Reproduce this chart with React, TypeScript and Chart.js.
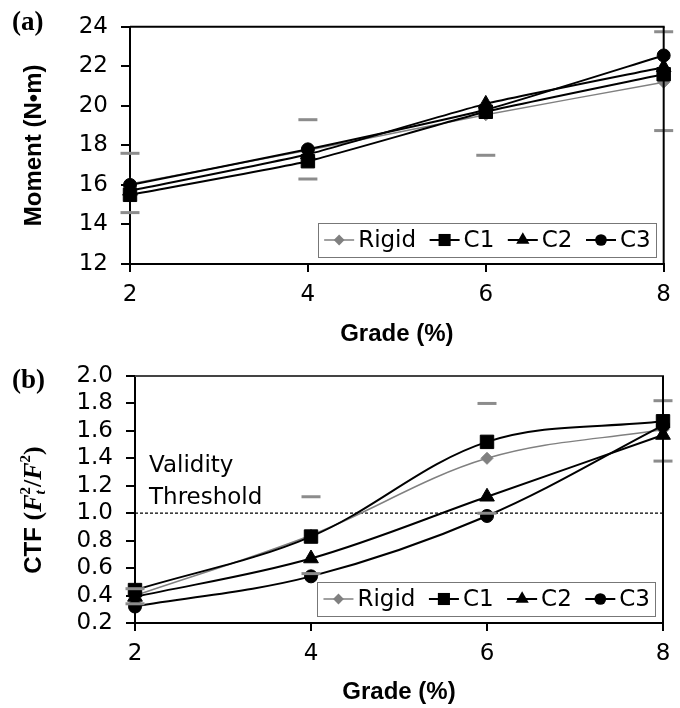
import React, { useEffect, useRef } from 'react';
import { Chart, registerables } from 'chart.js';

Chart.register(...registerables);

// ---------- data ----------
const grades = [2, 4, 6, 8];
const gradeTicks = [2, 4, 6, 8];
const seriesNames = ['Rigid', 'C1', 'C2', 'C3'];

const momentRigid = [16.05, 17.75, 19.55, 21.2];
const momentC1 = [15.5, 17.2, 19.7, 21.6];
const momentC2 = [15.7, 17.55, 20.1, 21.95];
const momentC3 = [16.0, 17.8, 19.8, 22.55];
const momentErrX = [2, 2, 4, 4, 6, 8, 8];
const momentErrY = [17.6, 14.6, 19.3, 16.3, 17.5, 23.75, 18.75];
const momentTicks = [12, 14, 16, 18, 20, 22, 24];

const ctfRigid = [0.4, 0.84, 1.4, 1.61];
const ctfC1 = [0.44, 0.83, 1.52, 1.67];
const ctfC2 = [0.39, 0.67, 1.12, 1.57];
const ctfC3 = [0.32, 0.54, 0.98, 1.64];
const ctfErrX = [2, 2, 4, 4, 6, 6, 8, 8];
const ctfErrY = [0.45, 0.34, 1.12, 0.56, 1.8, 1.0, 1.82, 1.38];
const ctfTicks = [0.2, 0.4, 0.6, 0.8, 1.0, 1.2, 1.4, 1.6, 1.8, 2.0];
const validityThreshold = 1.0;
const thresholdLabel = ['Validity', 'Threshold'];

// ---------- styles ----------
const GRAY = '#808080';
const ERR_GRAY = '#8c8c8c';
const seriesStyles = [
  { color: GRAY, pointStyle: 'rectRot', radius: 6, width: 1.5 },
  { color: '#000', pointStyle: 'rect', radius: 9.5, width: 2 },
  { color: '#000', pointStyle: 'triangle', radius: 8.5, width: 2 },
  { color: '#000', pointStyle: 'circle', radius: 6.5, width: 2 },
];
const TICK_FONT = { family: '"DejaVu Sans"', size: 23 };
const TITLE_FONT = { family: '"Liberation Sans", Arial', size: 24, weight: 'bold' as const };

function mkSeries(values: number[], i: number, tension: number) {
  const s = seriesStyles[i];
  return {
    label: seriesNames[i],
    data: grades.map((g, k) => ({ x: g, y: values[k] })),
    borderColor: s.color,
    backgroundColor: s.color,
    pointBackgroundColor: s.color,
    pointBorderColor: s.color,
    pointStyle: s.pointStyle,
    pointRadius: s.radius,
    pointBorderWidth: 1,
    borderWidth: s.width,
    tension,
    clip: false,
    order: 1 + (3 - i) * 0.1,
  };
}

function mkErrors(xs: number[], ys: number[]) {
  return {
    label: '_err',
    data: xs.map((x, k) => ({ x, y: ys[k] })),
    showLine: false,
    pointStyle: 'line',
    pointRadius: 9.5,
    pointBorderWidth: 3,
    pointBorderColor: ERR_GRAY,
    borderColor: ERR_GRAY,
    backgroundColor: ERR_GRAY,
    clip: false,
    order: 0,
  };
}

function drawMarker(ctx: CanvasRenderingContext2D, style: string, x: number, y: number, r: number, color: string) {
  ctx.save();
  ctx.fillStyle = color;
  ctx.beginPath();
  if (style === 'rectRot') {
    ctx.moveTo(x - r, y); ctx.lineTo(x, y - r); ctx.lineTo(x + r, y); ctx.lineTo(x, y + r); ctx.closePath();
  } else if (style === 'rect') {
    const h = r * Math.SQRT1_2;
    ctx.rect(x - h, y - h, 2 * h, 2 * h);
  } else if (style === 'triangle') {
    ctx.moveTo(x, y - r);
    ctx.lineTo(x + r * Math.sin(Math.PI * 2 / 3), y - r * Math.cos(Math.PI * 2 / 3));
    ctx.lineTo(x + r * Math.sin(Math.PI * 4 / 3), y - r * Math.cos(Math.PI * 4 / 3));
    ctx.closePath();
  } else {
    ctx.arc(x, y, r, 0, Math.PI * 2);
  }
  ctx.fill();
  ctx.restore();
}

const extrasPlugin = {
  id: 'extras',
  afterDraw(chart: any, _args: any, opts: any) {
    const ctx: CanvasRenderingContext2D = chart.ctx;
    const ca = chart.chartArea;
    ctx.save();
    // frame: top and right
    ctx.lineWidth = 2;
    ctx.strokeStyle = opts.topColor || '#000';
    ctx.beginPath(); ctx.moveTo(ca.left, ca.top); ctx.lineTo(ca.right + 1, ca.top); ctx.stroke();
    ctx.strokeStyle = '#000';
    ctx.beginPath(); ctx.moveTo(ca.right, ca.top); ctx.lineTo(ca.right, ca.bottom); ctx.stroke();

    // panel label
    ctx.fillStyle = '#000';
    ctx.font = 'bold 27px "Liberation Serif", "Times New Roman", serif';
    ctx.textBaseline = 'middle';
    ctx.textAlign = 'left';
    ctx.fillText(opts.panel, 12, opts.panelY);

    // threshold text
    if (opts.threshold) {
      const ys = chart.scales.y.getPixelForValue(validityThreshold);
      ctx.font = '23px "DejaVu Sans"';
      ctx.fillText(thresholdLabel[0], ca.left + 14, ys - 47);
      ctx.fillText(thresholdLabel[1], ca.left + 14, ys - 15);
    }

    // custom y title (mixed fonts)
    if (opts.ctfTitle) {
      const segs = [
        { t: 'CTF ', f: 'bold 24px "Liberation Sans", Arial', dy: 0, adv: true },
        { t: '(', f: 'bold 26px "Liberation Serif", serif', dy: 0, adv: true },
        { t: 'F', f: 'italic bold 26px "Liberation Serif", serif', dy: 0, adv: true },
        { t: 't', f: 'italic bold 15px "Liberation Serif", serif', dy: 7, adv: false },
        { t: '2', f: 'bold 15px "Liberation Serif", serif', dy: -8, adv: true },
        { t: '/', f: 'bold 26px "Liberation Serif", serif', dy: 0, adv: true },
        { t: 'F', f: 'italic bold 26px "Liberation Serif", serif', dy: 0, adv: true },
        { t: '2', f: 'bold 15px "Liberation Serif", serif', dy: -8, adv: true },
        { t: ')', f: 'bold 26px "Liberation Serif", serif', dy: 0, adv: true },
      ];
      let total = 0;
      for (const s of segs) { ctx.font = s.f; if (s.adv) total += ctx.measureText(s.t).width; }
      ctx.translate(34, opts.titleCy);
      ctx.rotate(-Math.PI / 2);
      let x = -total / 2;
      for (const s of segs) {
        ctx.font = s.f;
        ctx.fillText(s.t, x, s.dy);
        if (s.adv) x += ctx.measureText(s.t).width;
      }
      ctx.setTransform(1, 0, 0, 1, 0, 0);
    }

    // legend inside plot
    ctx.font = '23px "DejaVu Sans"';
    const padL = 6, padR = 5, markW = 30, gapMT = 4, gapItem = 13.5, h = 34;
    const widths = seriesNames.map((n) => ctx.measureText(n).width);
    const total = padL + padR + widths.reduce((a, w) => a + markW + gapMT + w, 0) + gapItem * (seriesNames.length - 1);
    const right = ca.right - 8, bottom = ca.bottom - 7;
    const left = right - total, top = bottom - h;
    ctx.fillStyle = '#fff';
    ctx.fillRect(left, top, total, h);
    ctx.strokeStyle = '#777';
    ctx.lineWidth = 1;
    ctx.strokeRect(Math.round(left) + 0.5, Math.round(top) + 0.5, Math.round(total), h);
    let x = left + padL;
    const cy = top + h / 2;
    seriesNames.forEach((n, i) => {
      const s = seriesStyles[i];
      ctx.strokeStyle = s.color;
      ctx.lineWidth = s.width;
      ctx.beginPath(); ctx.moveTo(x, cy); ctx.lineTo(x + markW, cy); ctx.stroke();
      drawMarker(ctx, s.pointStyle, x + markW / 2, cy, s.radius * 0.9, s.color);
      ctx.fillStyle = '#000';
      ctx.textBaseline = 'middle';
      ctx.fillText(n, x + markW + gapMT, cy + 1);
      x += markW + gapMT + widths[i] + gapItem;
    });
    ctx.restore();
  },
};

function baseScales(yTicks: number[], yMin: number, yMax: number, yWidth: number, xHeight: number, yTitle: any, fmt: (v: number) => string) {
  return {
    x: {
      type: 'linear',
      min: 2,
      max: 8,
      afterBuildTicks: (s: any) => { s.ticks = gradeTicks.map((v) => ({ value: v })); },
      afterFit: (s: any) => { s.height = xHeight; },
      ticks: { font: TICK_FONT, color: '#000', padding: 9, maxRotation: 0, autoSkip: false },
      grid: { drawOnChartArea: false, drawTicks: true, tickLength: 8, color: '#000', lineWidth: 2 },
      border: { display: true, color: '#000', width: 2 },
      title: { display: true, text: 'Grade (%)', font: TITLE_FONT, color: '#000', padding: { top: 0, bottom: 1 } },
    },
    y: {
      type: 'linear',
      min: yMin,
      max: yMax,
      afterBuildTicks: (s: any) => { s.ticks = yTicks.map((v) => ({ value: v })); },
      afterFit: (s: any) => { s.width = yWidth; },
      ticks: { font: TICK_FONT, color: '#000', padding: 13, autoSkip: false, callback: (v: any) => fmt(Number(v)) },
      grid: { drawOnChartArea: false, drawTicks: true, tickLength: 9, color: '#000', lineWidth: 2 },
      border: { display: true, color: '#000', width: 2 },
      title: yTitle,
    },
  };
}

export default function App() {
  const ref1 = useRef<HTMLCanvasElement>(null);
  const ref2 = useRef<HTMLCanvasElement>(null);

  useEffect(() => {
    const c1 = new Chart(ref1.current as HTMLCanvasElement, {
      type: 'line',
      data: {
        datasets: [
          mkErrors(momentErrX, momentErrY),
          mkSeries(momentRigid, 0, 0.15),
          mkSeries(momentC1, 1, 0.15),
          mkSeries(momentC2, 2, 0.15),
          mkSeries(momentC3, 3, 0.15),
        ] as any,
      },
      options: {
        animation: false,
        responsive: false,
        layout: { padding: { left: 0, top: 19, right: 15, bottom: 0 } },
        plugins: {
          legend: { display: false },
          tooltip: { enabled: false },
          extras: { panel: '(a)', panelY: 23 },
        } as any,
        scales: baseScales(momentTicks, 12, 24, 130, 86,
          { display: true, text: 'Moment (N\u2022m)', font: TITLE_FONT, color: '#000', padding: { top: 20, bottom: 0 } },
          (v) => String(v)) as any,
      },
      plugins: [extrasPlugin],
    });

    const c2 = new Chart(ref2.current as HTMLCanvasElement, {
      type: 'line',
      data: {
        datasets: [
          mkErrors(ctfErrX, ctfErrY),
          mkSeries(ctfRigid, 0, 0.35),
          mkSeries(ctfC1, 1, 0.35),
          mkSeries(ctfC2, 2, 0.35),
          mkSeries(ctfC3, 3, 0.35),
          {
            label: '_threshold',
            data: [{ x: 2, y: validityThreshold }, { x: 8, y: validityThreshold }],
            borderColor: '#000',
            borderWidth: 1.2,
            borderDash: [3, 2],
            pointRadius: 0,
            order: 3,
          },
        ] as any,
      },
      options: {
        animation: false,
        responsive: false,
        layout: { padding: { left: 0, top: 36, right: 17, bottom: 0 } },
        plugins: {
          legend: { display: false },
          tooltip: { enabled: false },
          extras: { panel: '(b)', panelY: 41, threshold: true, ctfTitle: true, titleCy: 170, topColor: '#444' },
        } as any,
        scales: baseScales(ctfTicks, 0.2, 2.0, 135, 85, { display: false }, (v) => v.toFixed(1)) as any,
      },
      plugins: [extrasPlugin],
    });

    return () => { c1.destroy(); c2.destroy(); };
  }, []);

  return (
    <div style={{ position: 'fixed', left: 0, top: 0, width: 680, height: 708, background: '#fff', overflow: 'hidden' }}>
      <canvas ref={ref1} width={680} height={350} style={{ position: 'absolute', left: 0, top: 0 }} />
      <canvas ref={ref2} width={680} height={368} style={{ position: 'absolute', left: 0, top: 340 }} />
    </div>
  );
}
